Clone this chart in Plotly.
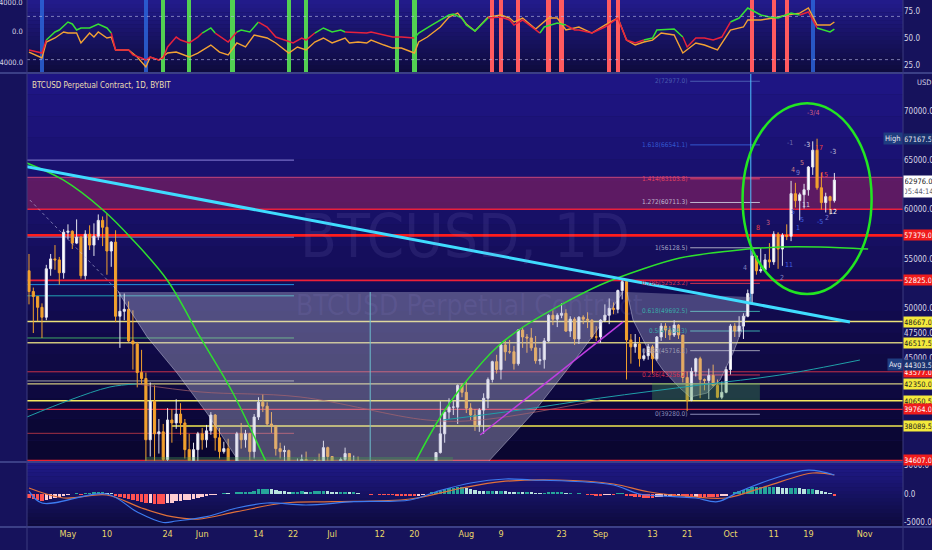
import pandas as pd
import plotly.graph_objects as go
from plotly.subplots import make_subplots

# ---------------- BTCUSD Perpetual (Bybit), daily bars 2021-04-22 .. 2021-10-25
start_date = "2021-04-22"
opens = [
    53800, 51700, 51200, 50100, 49100, 54000, 55000, 54900, 53600,  # Apr
    57700, 57800, 56600, 57200, 53300, 57500, 56400, 57300, 58900, 58200, 55800, 56700, 49200, 49700, 49900, 46700,
    46400, 43500, 42900, 36700, 40600, 37300, 37500, 34700, 38700, 38400, 39300, 38400, 35700, 34600, 35700,  # May
    37300, 36700, 37600, 39200, 36900, 35500, 35800, 33600, 33400, 37300, 36700, 37300, 35500, 39000, 40500,
    40100, 38300, 38100, 35800, 35500, 35600, 31600, 32500, 33700, 34700, 31600, 32200, 34600, 34400, 35900,  # Jun
    35000, 33500, 33800, 34700, 35300, 33900, 34200, 33900, 32900, 33800, 33500, 34300, 33100, 32700, 32800, 31800,
    31400, 31500, 31800, 30800, 29800, 32100, 32300, 33600, 34300, 35400, 37300, 39500, 40000, 40000, 42200,  # Jul
    41500, 39900, 39200, 38200, 39700, 40900, 42800, 44600, 43800, 46300, 45600, 45600, 44400, 47800, 47100, 47000,
    46000, 44700, 44800, 46700, 49300, 48900, 49300, 49500, 47700, 48900, 46900, 49100, 48900, 48800, 47100,  # Aug
    47100, 48800, 49300, 50000, 49900, 51800, 52700, 46800, 46100, 46400, 44900, 45200, 46100, 44900, 47100,
    48200, 47800, 47300, 48300, 47300, 43000, 40700, 43600, 44900, 42800, 42700, 43200, 42200, 41000, 41500,  # Sep
    43800, 48200, 47700, 48200, 49200, 51500, 55300, 53800, 53900, 54900, 54700, 57500, 56000,
    57400, 57300, 61600, 60900, 61500, 62000, 64300, 66000, 62200, 60700, 61300, 60900,  # Oct
]
highs = [
    55500, 52100, 51200, 50500, 54400, 55500, 56400, 55200, 58000,
    58500, 57900, 59000, 57300, 57900, 58400, 58600, 59500, 59300, 59600, 56800, 57900, 51500, 51500, 50700, 49800,
    46600, 45800, 43500, 42500, 42200, 38800, 38300, 39900, 39800, 40800, 40400, 38800, 37300, 36400, 37500,
    37900, 38200, 39500, 39300, 37900, 36500, 36800, 34000, 37500, 38400, 37700, 37400, 39300, 41000, 41300,
    40500, 39500, 38200, 36400, 36100, 35700, 33300, 34800, 35200, 35500, 32700, 34700, 35300, 36600, 36000,
    35000, 33900, 34900, 35900, 35300, 35100, 35000, 33900, 34100, 34200, 34600, 34600, 33300, 33100, 33200, 32300,
    31900, 32400, 31900, 31100, 32800, 32600, 33700, 34500, 35400, 40600, 39500, 40900, 40600, 42300, 42400,
    42600, 40400, 39800, 39900, 41400, 43000, 44700, 45300, 46500, 46700, 46800, 46200, 47900, 48100, 47400, 48000,
    47200, 46000, 47000, 49400, 49800, 49500, 50500, 49900, 49200, 49100, 49200, 49300, 49600, 48900, 48200,
    48900, 50400, 51000, 50600, 51900, 52900, 52900, 47400, 47400, 47100, 45900, 46400, 46300, 47200, 48500,
    48500, 48200, 48800, 48400, 47300, 43600, 44000, 45000, 45100, 42900, 43900, 44300, 42800, 42600, 44100,
    48400, 48500, 49200, 49500, 51900, 55800, 55300, 56100, 55500, 56600, 57800, 57700, 57600,
    58500, 62900, 62700, 61700, 62600, 64400, 66900, 67167.5, 63700, 61700, 61400, 63700,
]
lows = [
    50400, 47500, 48700, 47000, 48800, 53300, 53900, 52400, 53000,
    57000, 56000, 56500, 53000, 52900, 55900, 55300, 56900, 56300, 53400, 54200, 48600, 46000, 48800, 46600, 43800,
    42000, 42300, 30000, 35000, 33500, 35300, 31100, 34400, 36400, 37800, 37200, 34800, 33400, 33600, 34200,
    35700, 35900, 37200, 35600, 34800, 35300, 33300, 31000, 32400, 35800, 35900, 34600, 34800, 38700, 39500,
    38100, 37400, 35100, 34800, 33300, 31300, 28800, 31700, 32300, 31300, 30200, 32000, 33900, 34300, 34000,
    32700, 32700, 33300, 34200, 33200, 33600, 33800, 32100, 32300, 33000, 33300, 32700, 32200, 31600, 31200, 31000,
    31200, 31200, 30400, 29300, 29500, 31700, 31900, 33400, 33900, 35300, 36400, 38800, 39200, 38300, 41000,
    39400, 38700, 37600, 37500, 37300, 39900, 42500, 43400, 42800, 44700, 45400, 43800, 44200, 46000, 45500, 45700,
    44400, 44300, 43900, 46600, 48300, 48100, 49000, 47600, 47100, 46300, 46400, 48400, 48000, 46900, 46700,
    46500, 48600, 48400, 49400, 49500, 50900, 42800, 44400, 45500, 44100, 44700, 44800, 43400, 44700, 46700,
    47000, 46800, 47100, 46900, 42500, 39600, 40600, 43100, 40900, 41700, 40800, 42100, 40900, 40800, 41400,
    43300, 47100, 47100, 46900, 49100, 50400, 53400, 53600, 53700, 54100, 54400, 54000, 54300,
    56900, 56800, 60200, 58900, 60100, 61400, 63500, 62000, 60000, 59700, 59500, 60700,
]
closes = [
    51700, 51200, 50100, 49100, 54000, 55000, 54900, 53600, 57700,
    57800, 56600, 57200, 53300, 57500, 56400, 57300, 58900, 58200, 55800, 56700, 49200, 49700, 49900, 46700, 46400,
    43500, 42900, 36700, 40600, 37300, 37500, 34700, 38700, 38400, 39300, 38400, 35700, 34600, 35700, 37300,
    36700, 37600, 39200, 36900, 35500, 35800, 33600, 33400, 37300, 36700, 37300, 35500, 39000, 40500, 40100,
    38300, 38100, 35800, 35500, 35600, 31600, 32500, 33700, 34700, 31600, 32200, 34600, 34400, 35900, 35000,
    33500, 33800, 34700, 35300, 33900, 34200, 33900, 32900, 33800, 33500, 34300, 33100, 32700, 32800, 31800, 31400,
    31500, 31800, 30800, 29800, 32100, 32300, 33600, 34300, 35400, 37300, 39500, 40000, 40000, 42200, 41500,
    39900, 39200, 38200, 39700, 40900, 42800, 44600, 43800, 46300, 45600, 45600, 44400, 47800, 47100, 47000, 46000,
    44700, 44800, 46700, 49300, 48900, 49300, 49500, 47700, 48900, 46900, 49100, 48900, 48800, 47100, 47100,
    48800, 49300, 50000, 49900, 51800, 52700, 46800, 46100, 46400, 44900, 45200, 46100, 44900, 47100, 48200,
    47800, 47300, 48300, 47300, 43000, 40700, 43600, 44900, 42800, 42700, 43200, 42200, 41000, 41500, 43800,
    48200, 47700, 48200, 49200, 51500, 55300, 53800, 53900, 54900, 54700, 57500, 56000, 57400,
    57300, 61600, 60900, 61500, 62000, 64300, 66000, 62200, 60700, 61300, 60900, 62976,
]

# ---------------- MACD pane
macd_hist = [
    -700, -900, -1100, -1200, -1000, -800, -700, -600, -300,
    -100, 0, 100, -50, 100, 150, 200, 250, 250, 100, 50, -300, -500, -700, -900, -1100,
    -1300, -1400, -1600, -1500, -1700, -1700, -1800, -1600, -1500, -1300, -1200, -1100, -1000, -900, -700,
    -500, -300, -150, -100, 0, 100, 50, 0, 200, 300, 400, 400, 600, 800, 900,
    900, 800, 700, 600, 500, 300, 300, 400, 500, 400, 400, 500, 500, 600, 500,
    400, 300, 300, 300, 200, 200, 100, 0, 0, -50, 0, -50, -100, -100, -150, -200,
    -200, -200, -250, -300, -200, -150, 0, 200, 400, 600, 800, 1000, 1100, 1200, 1200,
    1100, 900, 700, 600, 500, 500, 600, 500, 600, 500, 400, 300, 400, 300, 300, 200,
    100, 50, 100, 200, 200, 200, 200, 100, 100, 0, 50, 0, -50, -150, -200,
    -200, -100, -50, -50, 50, 100, -200, -400, -500, -600, -700, -700, -700, -600, -500,
    -400, -300, -300, -200, -400, -600, -600, -500, -500, -500, -500, -500, -500, -400, -300,
    0, 300, 500, 700, 900, 1200, 1200, 1200, 1200, 1200, 1300, 1200, 1100,
    1000, 1100, 1100, 1000, 900, 900, 900, 700, 500, 300, 100, -200,
]
macd_days = [0, 3, 18, 25, 31, 34, 41, 48, 55, 64, 75, 88, 94, 102, 110, 116, 124, 135, 141, 149, 154, 159, 164, 171, 180, 186]
macd_line = [500, -1580, 0, -3160, -5000, -4740, -3980, -2460, -1580, -1930, -1350, -1050, 400, 1930,
             2630, 2460, 2280, 1580, 0, -470, -700, -1350, 400, 2460, 4200, 3330]
signal_days = [0, 8, 18, 26, 33, 39, 48, 59, 70, 88, 100, 109, 122, 135, 143, 153, 161, 170, 181, 186]
signal_line = [1050, -700, -175, -2460, -3980, -4390, -3100, -1580, -1350, -880, 1050, 2170, 2460, 1750,
               400, -470, -700, 1280, 3680, 3330]

# ---------------- oscillator pane (two lines + signal columns)
osc_days = [0, 3, 4, 6, 7, 9, 10, 11, 12, 14, 16, 18, 19, 20, 23, 24, 26, 27, 28, 30, 31, 32, 34, 35, 37, 39, 40,
            42, 43, 46, 48, 49, 51, 53, 55, 57, 60, 61, 63, 64, 66, 68, 70, 72, 73, 76, 78, 79, 82, 84, 86, 89, 90,
            93, 97, 98, 100, 101, 103, 106, 109, 111, 112, 114, 118, 119, 122, 124, 126, 127, 130, 133, 136, 138,
            140, 142, 144, 145, 149, 151, 152, 154, 156, 158, 160, 162, 164, 166, 169, 171, 173, 176, 178, 180,
            182, 185, 186]
osc_fast = [38.9, 36.1, 48.1, 55.6, 57.4, 64.8, 63.0, 57.4, 59.3, 59.3, 63.0, 59.3, 54.6, 38.9, 38.9, 34.3, 31.5,
            29.6, 32.4, 29.6, 31.5, 41.7, 50.9, 48.1, 45.4, 50.9, 54.6, 59.3, 54.6, 46.3, 55.6, 57.4, 55.6, 64.8,
            60.2, 50.9, 46.3, 45.4, 50.0, 48.1, 54.6, 59.3, 55.6, 57.4, 55.6, 54.6, 54.6, 55.6, 52.8, 50.9, 50.9,
            50.0, 54.6, 62.0, 71.3, 72.2, 68.5, 62.0, 56.5, 68.5, 69.4, 66.7, 62.0, 66.7, 54.6, 60.2, 63.9, 62.0,
            57.4, 57.4, 54.6, 60.2, 68.5, 48.1, 45.4, 48.1, 50.0, 57.4, 58.3, 50.9, 41.7, 50.0, 50.0, 48.1, 50.9,
            64.8, 68.5, 77.8, 71.3, 69.4, 68.5, 73.1, 71.3, 74.1, 59.3, 55.6, 58.3]
fast_green_spans = [(4, 19), (40, 43), (48, 53), (66, 73), (89, 106), (118, 124), (142, 151), (162, 178), (182, 186)]
slow_days = [0, 3, 4, 6, 8, 9, 11, 12, 14, 15, 16, 18, 19, 20, 23, 25, 27, 28, 30, 32, 34, 37, 39, 42, 44, 46, 48,
             50, 52, 55, 57, 60, 62, 64, 66, 68, 70, 73, 74, 76, 78, 79, 82, 84, 86, 89, 90, 92, 95, 97, 99, 101,
             103, 106, 109, 111, 112, 114, 117, 120, 122, 124, 127, 130, 133, 136, 138, 140, 142, 144, 146, 149,
             151, 154, 156, 159, 162, 165, 166, 169, 172, 175, 178, 180, 182, 185, 186]
osc_slow = [37.0, 31.5, 46.3, 50.0, 55.6, 54.6, 54.6, 45.4, 54.6, 50.9, 55.6, 50.0, 50.9, 38.9, 38.9, 32.4, 23.1,
            32.4, 29.6, 36.1, 37.0, 32.4, 36.1, 43.5, 37.0, 34.3, 45.4, 41.7, 52.8, 50.0, 45.4, 36.1, 41.7, 38.9,
            46.3, 50.0, 45.4, 50.0, 45.4, 46.3, 45.4, 48.1, 43.5, 40.7, 40.7, 36.1, 46.3, 50.9, 60.2, 69.4, 73.1,
            63.0, 56.5, 69.4, 71.3, 68.5, 64.8, 68.5, 58.3, 68.5, 68.5, 57.4, 60.2, 54.6, 62.0, 68.5, 48.1, 43.5,
            46.3, 48.1, 54.6, 52.8, 36.1, 45.4, 43.5, 38.9, 57.4, 60.2, 66.7, 66.7, 68.5, 71.3, 73.1, 77.8, 62.0,
            62.0, 64.8]
signal_cols_days = [3, 27, 181, 31, 37, 47, 60, 64, 85, 89, 107, 109, 113, 120, 123, 134, 136, 167, 172, 175]
signal_cols_kind = ["b", "b", "b", "g", "g", "g", "g", "g", "g", "g",
                    "r", "r", "r", "r", "r", "r", "r", "r", "r", "r"]

# ---------------- chart drawings, anchors as (days after first bar, price)
trend_cyan = [(-0.5, 64340), (189.6, 48620)]
arc_left = [(-0.5, 64700), (7.9, 62990), (17.1, 59950), (24.0, 56920), (31.9, 52870), (39.5, 47100),
            (47.1, 41430), (54.9, 34350), (57.0, 32500)]
arc_right = [(88.0, 33300), (89.1, 34350), (95.6, 39410), (101.2, 42750), (108.1, 46090), (114.1, 48110),
             (121.9, 50130), (131.9, 52360), (141.1, 53880), (150.3, 55090), (161.9, 55800), (173.4, 56210),
             (182.7, 56210), (193.8, 56000)]
cup_big = [(20.6, 51650), (27.3, 47100), (34.2, 43450), (41.1, 39400), (48.7, 34350), (50.0, 33000),
           (104.0, 33000), (105.8, 34350), (116.4, 39400), (127.3, 45480), (131.2, 47800), (137.2, 51650)]
cup_small = [(138.1, 51650), (139.5, 48820), (142.7, 46080), (146.4, 43760), (150.3, 41940), (152.7, 41020),
             (156.6, 41430), (159.6, 42740), (162.6, 45480), (164.9, 48110), (166.5, 51140)]
magenta_line = [(104.2, 37180), (137.2, 48620)]
dotted_line = [(0.2, 60960), (21.0, 51550)]
ma_teal_a = [(-0.5, 39000), (9.5, 40730), (18.7, 42040), (24.9, 42350)]
ma_brown = [(24.9, 42350), (39.5, 41540), (62.6, 41030), (91.9, 38700), (104.2, 38700), (131.9, 40730)]
ma_teal_b = [(95.6, 38700), (113.4, 39710), (131.9, 40920), (155.0, 42240), (173.4, 43250), (191.9, 44770)]
ellipse_box = [(164.8, 51450), (194.6, 70750)]
green_boxes = [[(143.9, 40720), (168.8, 42440)], [(26.8, 33000), (97.9, 34960)]]

full_levels = [63260, 60022, 57379, 52825, 48667, 46517.5, 43577, 42350, 40650.5, 39764, 38089.5, 34607]
full_colors = ["#c8467a", "#e8203c", "#ff1c1c", "#ee2038", "#ece27a", "#cdc47c", "#c83048", "#d0c880",
               "#f2e860", "#d82840", "#f2e850", "#e82030"]
full_widths = [1, 1.5, 2.6, 1.6, 1.5, 1.5, 1, 1.3, 1.5, 1.3, 1.5, 1.6]
short_levels = [65000, 57200, 52400, 51265, 47000, 42650, 37350]
short_colors = ["#8c84dc", "#6f7fc4", "#2090e0", "#22a4b4", "#3fa862", "#a0a0a8", "#a33044"]

fib_ratios = [0, 0.236, 0.382, 0.5, 0.618, 0.786, 1, 1.272, 1.414, 1.618, 2]
fib_prices = [39280.0, 43256.2, 45716.1, 47704.3, 49692.5, 52523.2, 56128.5, 60711.3, 63103.8, 66541.1, 72977.0]
fib_colors = ["#8a8ab8", "#d03050", "#9a9ab0", "#3aa8a8", "#3aa8a8", "#d03050", "#a8a8c4", "#c0b8d0",
              "#e04060", "#3458d0", "#4a5cb0"]

tag_prices = [57379.0, 52825.0, 48667.0, 46517.5, 43577.0, 42350.0, 40650.5, 39764.0, 38089.5, 34607.0]
tag_kinds = ["r", "r", "y", "y", "r", "y", "y", "r", "y", "r"]

wave_labels = [(181.1, 69760, "-3/4", "#d06080"), (175.7, 66720, "-1", "#6a6ab0"), (179.7, 66520, "-3", "#d8d8e8"),
               (182.4, 66210, "17", "#f04040"), (185.7, 65820, "-3", "#c0c0d8"), (178.5, 64710, "5", "#d08080"),
               (176.4, 64000, "4", "#d08080"), (177.6, 63700, "9", "#8080d0"), (183.6, 63490, "15", "#f04040"),
               (179.4, 60460, "11", "#d0d0e0"), (185.7, 59750, "12", "#ffffff"), (184.3, 59140, "2", "#8080d0"),
               (182.7, 58740, "-5", "#4060e0"), (176.4, 59750, "5", "#4060e0"), (178.5, 58940, "5", "#4060e0"),
               (177.6, 58130, "1", "#4060e0"), (170.7, 58640, "3", "#d06080"), (168.4, 58130, "8", "#f04040"),
               (175.5, 54390, "11", "#4060e0"), (173.9, 53070, "2", "#8080c0"), (165.4, 54080, "4", "#8080c0")]

tick_dates = ["2021-05-01", "2021-05-10", "2021-05-24", "2021-06-01", "2021-06-14", "2021-06-22", "2021-07-01",
              "2021-07-12", "2021-07-20", "2021-08-01", "2021-08-09", "2021-08-23", "2021-09-01", "2021-09-13",
              "2021-09-21", "2021-10-01", "2021-10-11", "2021-10-19", "2021-11-01"]
tick_text = ["May", "10", "24", "Jun", "14", "22", "Jul", "12", "20", "Aug", "9", "23", "Sep", "13", "21",
             "Oct", "11", "19", "Nov"]

dates = pd.date_range(start_date, periods=len(closes), freq="D")
t0 = dates[0]


def day(o):
    return t0 + pd.Timedelta(days=o)


def blend(c0, c1, t):
    a = [int(c0[i:i + 2], 16) for i in (1, 3, 5)]
    b = [int(c1[i:i + 2], 16) for i in (1, 3, 5)]
    return "rgb(%d,%d,%d)" % tuple(round(a[k] + (b[k] - a[k]) * t) for k in range(3))


FONT = "DejaVu Sans Condensed, Liberation Sans Narrow, Roboto Condensed, Roboto, sans-serif"
OSC_RANGE = [17.6, 85.2]
PRICE_RANGE = [34448, 73815]
MACD_RANGE = [-5789, 5614]

fig = make_subplots(rows=3, cols=1, shared_xaxes=True, vertical_spacing=0,
                    row_heights=[73 / 527, 389 / 527, 65 / 527])

# ---- oscillator pane
col_map = {"b": "rgba(44,100,216,0.85)", "g": "#52d052", "r": "#ff5a5f"}
fig.add_trace(go.Bar(
    x=[dates[i] for i in signal_cols_days],
    y=[OSC_RANGE[1] - OSC_RANGE[0]] * len(signal_cols_days),
    base=OSC_RANGE[0], width=86400000 * 1.0,
    marker=dict(color=[col_map[k] for k in signal_cols_kind], line_width=0),
    showlegend=False), row=1, col=1)

fig.add_trace(go.Scatter(x=[dates[i] for i in slow_days], y=osc_slow, mode="lines",
                         line=dict(color="#f3a233", width=1.4), showlegend=False), row=1, col=1)

# fast line: green / red runs
run_x, run_y, run_c = [], [], None
for k in range(len(osc_days) - 1):
    a, b = osc_days[k], osc_days[k + 1]
    c = "#35e035" if any(s <= a and b <= e for s, e in fast_green_spans) else "#e8223c"
    if c != run_c and run_x:
        fig.add_trace(go.Scatter(x=run_x, y=run_y, mode="lines", line=dict(color=run_c, width=1.5),
                                 showlegend=False), row=1, col=1)
        run_x, run_y = [run_x[-1]], [run_y[-1]]
    if not run_x:
        run_x, run_y = [dates[a]], [osc_fast[k]]
    run_c = c
    run_x.append(dates[b])
    run_y.append(osc_fast[k + 1])
fig.add_trace(go.Scatter(x=run_x, y=run_y, mode="lines", line=dict(color=run_c, width=1.5),
                         showlegend=False), row=1, col=1)


# ---- main pane: background drawings
def pts(seq):
    return [day(o) for o, _ in seq], [p for _, p in seq]


for poly, fc in [(cup_big, "rgba(196,196,222,0.36)"), (cup_small, "rgba(200,200,225,0.3)")]:
    xs, ys = pts(poly)
    fig.add_trace(go.Scatter(x=xs, y=ys, fill="toself", fillcolor=fc, mode="lines",
                             line=dict(color="rgba(215,215,235,0.45)", width=1), showlegend=False), row=2, col=1)

for box in green_boxes:
    (xa, ya), (xb, yb) = box
    fig.add_trace(go.Scatter(x=[day(xa), day(xb), day(xb), day(xa)], y=[ya, ya, yb, yb], fill="toself",
                             fillcolor="rgba(70,160,80,0.35)", mode="lines", line_width=0,
                             showlegend=False), row=2, col=1)

for seq, colr, w, dash in [(ma_teal_a, "#1f9fa8", 1, "solid"), (ma_brown, "rgba(170,100,110,0.7)", 1, "solid"),
                           (ma_teal_b, "#1f9fa8", 1, "solid"), (dotted_line, "rgba(200,200,235,0.55)", 1, "dot"),
                           (magenta_line, "#c03ee0", 1.5, "solid")]:
    xs, ys = pts(seq)
    fig.add_trace(go.Scatter(x=xs, y=ys, mode="lines", line=dict(color=colr, width=w, dash=dash),
                             line_shape="spline", showlegend=False), row=2, col=1)

fig.add_trace(go.Candlestick(
    x=dates, open=opens, high=highs, low=lows, close=closes,
    increasing=dict(line=dict(color="#e4e4f0", width=1), fillcolor="#ffffff"),
    decreasing=dict(line=dict(color="#f2a12e", width=1), fillcolor="#f2a12e"),
    whiskerwidth=0, showlegend=False), row=2, col=1)

for seq in (arc_left, arc_right):
    xs, ys = pts(seq)
    fig.add_trace(go.Scatter(x=xs, y=ys, mode="lines", line=dict(color="#2ee02e", width=1.5),
                             line_shape="spline", showlegend=False), row=2, col=1)
xs, ys = pts(trend_cyan)
fig.add_trace(go.Scatter(x=xs, y=ys, mode="lines", line=dict(color="#3fdcff", width=3),
                         showlegend=False), row=2, col=1)

# ---- MACD pane
hist_colors = []
for i, h in enumerate(macd_hist):
    prev = macd_hist[i - 1] if i else h
    if h >= 0:
        hist_colors.append("#26a69a" if h >= prev else "#b8e4df")
    else:
        hist_colors.append("#ff5252" if h <= prev else "#ffcdd2")
fig.add_trace(go.Bar(x=dates, y=macd_hist, width=86400000 * 0.8,
                     marker=dict(color=hist_colors, line_width=0), showlegend=False), row=3, col=1)
fig.add_trace(go.Scatter(x=[dates[i] for i in signal_days], y=signal_line, mode="lines",
                         line=dict(color="#e0703a", width=1.2), line_shape="spline", showlegend=False), row=3, col=1)
fig.add_trace(go.Scatter(x=[dates[i] for i in macd_days], y=macd_line, mode="lines",
                         line=dict(color="#3d7bf0", width=1.2), line_shape="spline", showlegend=False), row=3, col=1)

# ---- backgrounds (vertical gradients per pane)
shapes = []
panes = [(fig.layout.yaxis.domain, "#221b8a", "#0e0b3e"),
         (fig.layout.yaxis2.domain, "#1e1583", "#0a0630"),
         (fig.layout.yaxis3.domain, "#1f1a88", "#0d0a3c")]
n_bands = 18
for (lo, hi), ctop, cbot in panes:
    for k in range(n_bands):
        y1 = hi - (hi - lo) * k / n_bands
        y0 = hi - (hi - lo) * (k + 1) / n_bands
        shapes.append(dict(type="rect", xref="paper", yref="paper", x0=0, x1=1, y0=y0, y1=y1,
                           fillcolor=blend(ctop, cbot, k / (n_bands - 1)), line_width=0, layer="below"))

# oscillator bands
for lvl in (70, 30):
    shapes.append(dict(type="line", xref="paper", yref="y", x0=0, x1=1, y0=lvl, y1=lvl,
                       line=dict(color="rgba(190,190,235,0.6)", width=1, dash="dot"), layer="above"))

# price band and horizontal levels
shapes.append(dict(type="rect", xref="paper", yref="y2", x0=0, x1=1, y0=60022, y1=63260,
                   fillcolor="rgba(215,45,85,0.36)", line_width=0, layer="below"))
for p, c, w in zip(full_levels, full_colors, full_widths):
    x0 = day(33) if p == 38089.5 else day(-0.5)
    shapes.append(dict(type="line", xref="x2", yref="y2", x0=x0, x1=day(202), y0=p, y1=p,
                       line=dict(color=c, width=w), layer="below"))
for p, c in zip(short_levels, short_colors):
    shapes.append(dict(type="line", xref="x2", yref="y2", x0=day(-0.5), x1=day(61.2), y0=p, y1=p,
                       line=dict(color=c, width=1), layer="below"))

# fib levels
for r, p, c in zip(fib_ratios, fib_prices, fib_colors):
    shapes.append(dict(type="line", xref="x2", yref="y2", x0=day(152.7), x1=day(168.8), y0=p, y1=p,
                       line=dict(color=c, width=1), layer="below"))

# vertical markers
shapes.append(dict(type="line", xref="x2", yref="y2", x0=day(166.7), x1=day(166.7), y0=50400, y1=PRICE_RANGE[1],
                   line=dict(color="#4fc3ff", width=1), layer="below"))
shapes.append(dict(type="line", xref="x2", yref="y2", x0=day(78.8), x1=day(78.8), y0=33000, y1=51650,
                   line=dict(color="#3cbcc4", width=1), layer="below"))

# ellipse
(ea, eb), (ec, ed) = ellipse_box
shapes.append(dict(type="circle", xref="x2", yref="y2", x0=day(ea), x1=day(ec), y0=eb, y1=ed,
                   line=dict(color="#22e622", width=2.5), layer="above"))

# pane separators and borders
for yy in (fig.layout.yaxis.domain[0], fig.layout.yaxis2.domain[0], 0):
    shapes.append(dict(type="line", xref="paper", yref="paper", x0=-0.04, x1=1.04, y0=yy, y1=yy,
                       line=dict(color="#3b3f86", width=2), layer="above"))
for xx in (0, 1):
    shapes.append(dict(type="line", xref="paper", yref="paper", x0=xx, x1=xx, y0=-0.05, y1=1,
                       line=dict(color="#3a3a7e", width=1), layer="above"))
fig.update_layout(shapes=shapes)

# ---- annotations
ann = []
ann.append(dict(text="BTCUSD, 1D", x=day(100.7), y=57300, xref="x2", yref="y2", showarrow=False,
                font=dict(family=FONT, size=60, color="rgba(140,130,210,0.13)")))
ann.append(dict(text="BTCUSD Perpetual Contract", x=day(101.8), y=50300, xref="x2", yref="y2", showarrow=False,
                font=dict(family=FONT, size=28, color="rgba(150,140,215,0.13)")))
ann.append(dict(text="BTCUSD Perpetual Contract, 1D, BYBIT", x=0, xshift=3, y=72560, xref="paper", yref="y2",
                xanchor="left", showarrow=False, font=dict(family=FONT, size=8, color="#ecdfb2")))

for r, p, c in zip(fib_ratios, fib_prices, fib_colors):
    ann.append(dict(text="%g(%.1f)" % (r, p), x=day(152.4), y=p, xref="x2", yref="y2", xanchor="right",
                    showarrow=False, font=dict(family=FONT, size=6.5, color=c)))

for o, p, t, c in wave_labels:
    ann.append(dict(text=t, x=day(o), y=p, xref="x2", yref="y2", showarrow=False,
                    font=dict(family=FONT, size=7, color=c)))

for p, k in zip(tag_prices, tag_kinds):
    ann.append(dict(text="%.1f" % p, x=1, xref="paper", y=p, yref="y2", xanchor="left", showarrow=False,
                    bgcolor="#f01c1c" if k == "r" else "#f4ea3c", width=27, borderpad=0.5,
                    font=dict(family=FONT, size=7.5, color="#ffffff" if k == "r" else "#202020")))

for p, label, val in [(67167.5, "High", "67167.5"), (44303.5, "Avg", "44303.5")]:
    ann.append(dict(text=label, x=1, xref="paper", y=p, yref="y2", xanchor="right", showarrow=False,
                    bgcolor="#1f3d80", borderpad=1, font=dict(family=FONT, size=7.5, color="#e8e8f0")))
    ann.append(dict(text=val, x=1, xref="paper", y=p, yref="y2", xanchor="left", showarrow=False,
                    bgcolor="#19326e", width=27, borderpad=0.5, font=dict(family=FONT, size=7.5, color="#e8e8f0")))

ann.append(dict(text="62976.0<br><span style='color:#606070'>05:44:14</span>", x=1, xref="paper", y=63450,
                yref="y2", xanchor="left", yanchor="top", showarrow=False, bgcolor="#ffffff", width=27,
                borderpad=1, font=dict(family=FONT, size=7.5, color="#202020")))
ann.append(dict(text="USD", x=1, xref="paper", xshift=12, y=72900, yref="y2", xanchor="left", showarrow=False,
                font=dict(family=FONT, size=7.5, color="#d6d6e6")))

for v, t in [(83.3, "4000.0"), (55.6, "0.0"), (26.9, "-4000.0")]:
    ann.append(dict(text=t, x=0, xref="paper", xshift=-2, y=v, yref="y", xanchor="right", showarrow=False,
                    font=dict(family=FONT, size=7.5, color="#d6d6e6")))
fig.update_layout(annotations=ann)

# ---- axes & layout
x_range = [day(-0.46), day(201.85)]
fig.update_xaxes(range=x_range, showgrid=False, zeroline=False, showline=False, automargin=False,
                 rangeslider_visible=False)
fig.update_xaxes(tickvals=pd.to_datetime(tick_dates), ticktext=tick_text, ticks="",
                 tickfont=dict(family=FONT, size=9, color="#ead86a"), row=3, col=1)
tickfont = dict(family=FONT, size=8, color="#d6d6e6")
fig.update_yaxes(side="right", showgrid=False, zeroline=False, showline=False, ticks="", automargin=False,
                 tickfont=tickfont)
fig.update_yaxes(range=OSC_RANGE, tickvals=[25, 50, 75], ticktext=["25.0", "50.0", "75.0"], row=1, col=1)
price_ticks = [45000, 47500, 50000, 55000, 60000, 65000, 70000]
fig.update_yaxes(range=PRICE_RANGE, tickvals=price_ticks, ticktext=["%.1f" % v for v in price_ticks],
                 row=2, col=1)
fig.update_yaxes(range=MACD_RANGE, tickvals=[-5000, 0, 5000], ticktext=["-5000.0", "0.0", "5000.0"],
                 row=3, col=1)

fig.update_layout(
    width=932, height=550,
    margin=dict(l=27, r=29, t=0, b=23, autoexpand=False),
    paper_bgcolor="#16125c",
    plot_bgcolor="rgba(0,0,0,0)",
    barmode="overlay",
    bargap=0,
    showlegend=False,
    hovermode=False,
    xaxis2_rangeslider_visible=False,
)

# the page body carries a default 8px margin; drop it so the figure sits at the window origin
fig.write_html("out.html", config={"displayModeBar": False},
               post_script="document.body.style.margin='0';document.body.style.overflow='hidden';")
